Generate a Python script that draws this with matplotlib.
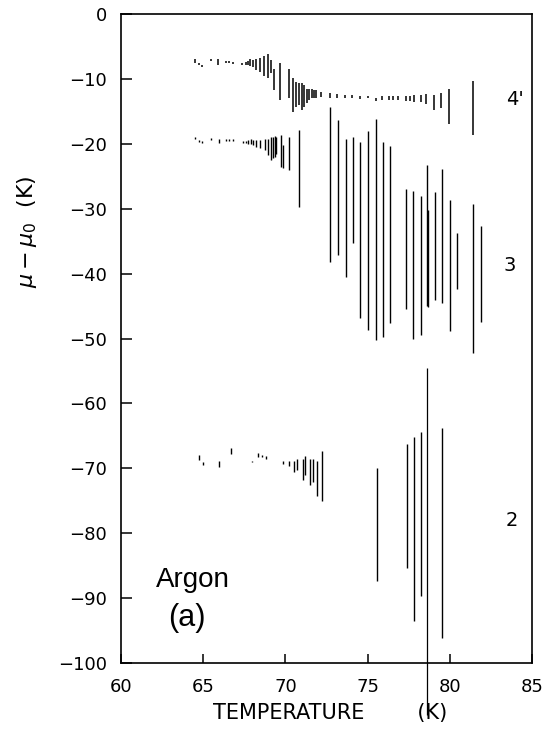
import matplotlib.pyplot as plt

# ---- curva 4' ----
temp_4 = [64.53, 64.74, 64.9, 65.47, 65.92, 66.39, 66.59, 66.83, 67.36, 67.58,
          67.74, 67.85, 68.03, 68.23, 68.45, 68.7, 68.96, 69.1, 69.29, 69.69,
          70.2, 70.48, 70.63, 70.83, 71.0, 71.15, 71.3, 71.45, 71.6, 71.74,
          71.86, 72.17, 72.71, 73.16, 73.63, 74.03, 74.54, 75.0, 75.49, 75.86,
          76.3, 76.56, 76.87, 77.34, 77.57, 77.82, 78.25, 78.55, 79.03, 79.46,
          79.97, 81.43]
alto_4 = [-7.0, -7.5, -7.8, -6.9, -7.0, -7.3, -7.3, -7.4, -7.6, -7.4,
          -7.2, -7.0, -7.1, -7.0, -6.8, -6.5, -6.1, -7.1, -8.4, -7.5,
          -8.4, -9.9, -10.4, -10.7, -10.7, -11.0, -11.5, -11.6, -11.6, -11.7,
          -11.7, -12.0, -12.1, -12.3, -12.4, -12.5, -12.6, -12.6, -12.9, -12.7,
          -12.7, -12.7, -12.7, -12.6, -12.6, -12.5, -12.4, -12.3, -12.5, -12.1,
          -11.6, -10.3]
bajo_4 = [-7.6, -7.9, -8.1, -7.3, -7.9, -7.6, -7.6, -7.7, -7.9, -7.9,
          -7.9, -8.0, -8.2, -8.7, -8.9, -9.6, -9.8, -9.1, -11.7, -13.2,
          -13.0, -15.1, -14.3, -14.0, -14.8, -14.3, -13.7, -13.3, -13.0, -12.9,
          -12.9, -12.8, -12.9, -12.9, -13.0, -13.0, -13.1, -13.0, -13.4, -13.2,
          -13.2, -13.2, -13.2, -13.4, -13.4, -13.5, -13.6, -13.8, -14.8, -14.5,
          -16.9, -18.6]

# ---- curva 3 ----
temp_3 = [64.53, 64.74, 64.9, 65.47, 65.94, 66.39, 66.59, 66.83, 67.4, 67.58,
          67.74, 67.89, 68.05, 68.21, 68.45, 68.76, 68.96, 69.1, 69.22, 69.35,
          69.43, 69.71, 69.87, 70.22, 70.85, 72.71, 73.22, 73.67, 74.09, 74.56,
          75.02, 75.53, 75.96, 76.38, 77.34, 77.79, 78.25, 78.6, 78.65, 79.1,
          79.54, 80.01, 80.44, 81.43, 81.88]
alto_3 = [-18.9, -19.4, -19.6, -19.1, -19.2, -19.2, -19.3, -19.3, -19.6, -19.5,
          -19.4, -19.3, -19.4, -19.4, -19.4, -19.3, -19.2, -19.0, -18.9, -18.8,
          -18.9, -18.6, -20.2, -18.9, -17.9, -14.3, -16.3, -19.2, -18.9, -19.7,
          -18.0, -16.2, -19.7, -20.3, -26.9, -27.2, -28.1, -23.3, -30.2, -27.4,
          -23.9, -28.6, -33.7, -29.2, -32.7]
bajo_3 = [-19.3, -19.7, -19.9, -19.4, -19.8, -19.5, -19.6, -19.6, -19.9, -19.9,
          -20.0, -20.1, -20.2, -20.5, -20.6, -21.0, -21.7, -22.5, -22.2, -22.0,
          -21.5, -23.5, -23.8, -24.0, -29.7, -38.2, -37.1, -40.5, -35.3, -46.9,
          -48.7, -50.3, -49.8, -47.6, -45.5, -50.0, -49.4, -45.0, -45.1, -44.1,
          -44.5, -48.9, -42.4, -52.3, -47.4]

# ---- curva 2 ----
temp_2 = [64.74, 64.97, 65.98, 66.67, 67.95, 68.31, 68.58, 68.8, 69.87, 70.24,
          70.54, 70.69, 71.05, 71.21, 71.5, 71.66, 71.95, 72.23, 75.59, 77.38,
          77.84, 78.27, 79.54]
alto_2 = [-68.0, -69.0, -68.8, -66.9, -68.8, -67.7, -67.9, -68.1, -68.9, -68.8,
          -68.8, -68.6, -68.6, -68.1, -68.5, -68.5, -68.8, -67.4, -70.0, -66.3,
          -65.2, -64.4, -63.8]
bajo_2 = [-68.7, -69.5, -69.8, -67.8, -69.1, -68.2, -68.3, -68.5, -69.4, -69.6,
          -70.5, -70.2, -71.8, -71.1, -72.6, -72.1, -74.3, -75.1, -87.3, -85.3,
          -93.6, -89.7, -96.1]

# barra larga que cruza el eje
temp_larga = [78.63]
alto_larga = [-54.6]
bajo_larga = [-108.0]

fig = plt.figure(figsize=(5.47, 7.31), dpi=100)
ax = fig.add_axes([0.2212, 0.0930, 0.7514, 0.8878])

ax.vlines(temp_4, bajo_4, alto_4, color='black', linewidth=1.1)
ax.vlines(temp_3, bajo_3, alto_3, color='black', linewidth=1.0)
ax.vlines(temp_2, bajo_2, alto_2, color='black', linewidth=1.0)
ax.vlines(temp_larga, bajo_larga, alto_larga, color='black', linewidth=0.9, clip_on=False)

ax.set_xlim(60, 85)
ax.set_ylim(-100, 0)
ax.set_xticks([60, 65, 70, 75, 80, 85])
ax.set_yticks(list(range(0, -101, -10)))

ax.tick_params(axis='y', direction='in', length=8, width=1.1, pad=10, labelsize=13)
ax.tick_params(axis='x', direction='in', length=6.5, width=1.1, pad=11, labelsize=13)
for s in ax.spines.values():
    s.set_linewidth(1.2)

ax.set_xlabel('TEMPERATURE        (K)', fontsize=15)
ax.xaxis.set_label_coords(0.51, -0.062)
ax.set_ylabel(r'$\mu - \mu_0$  (K)', fontsize=16)
ax.yaxis.set_label_coords(-0.20, 0.664)

ax.text(83.97, -13.1, "4'", fontsize=14, ha='center', va='center')
ax.text(83.66, -38.7, '3', fontsize=14, ha='center', va='center')
ax.text(83.78, -78.0, '2', fontsize=14, ha='center', va='center')

ax.text(64.4, -87.2, 'Argon', fontsize=20, ha='center', va='center', family='Liberation Sans')
ax.text(64.0, -93.1, '(a)', fontsize=22, ha='center', va='center', family='Liberation Sans')

plt.savefig('out.png', dpi=100)
